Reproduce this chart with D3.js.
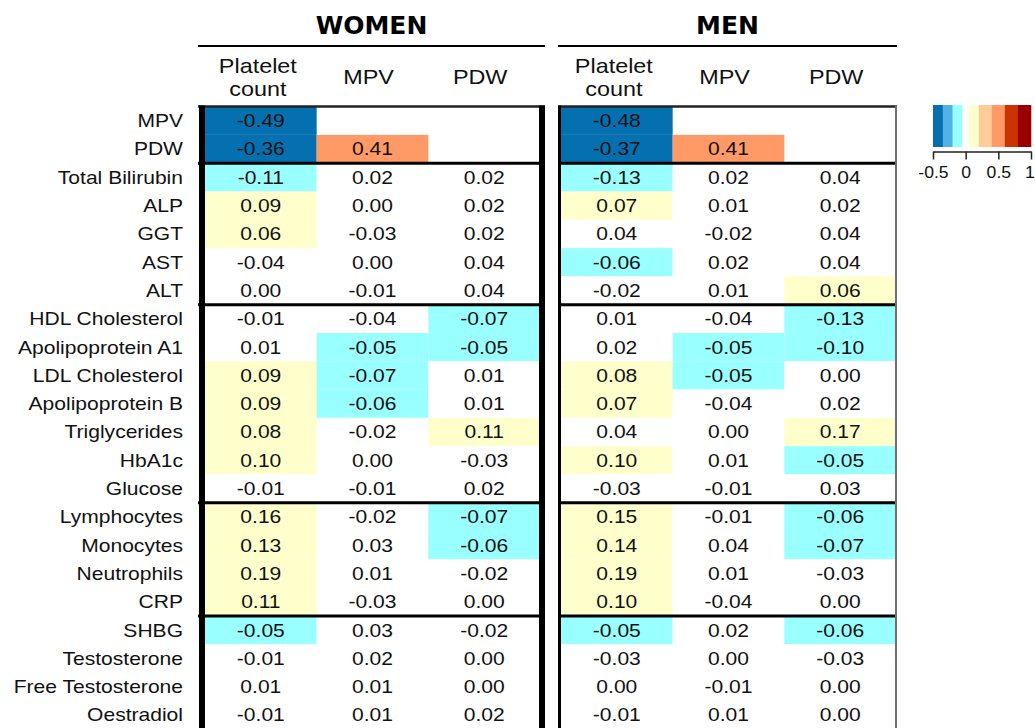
<!DOCTYPE html>
<html>
<head>
<meta charset="utf-8">
<script src="https://cdn.jsdelivr.net/npm/d3@7"></script>
<style>
  html, body { margin: 0; padding: 0; background: #fff; }
  svg { display: block; }
</style>
</head>
<body>
<script>
// Correlations of platelet indices with biomarkers, by sex
const rowLabels = ["MPV", "PDW", "Total Bilirubin", "ALP", "GGT", "AST", "ALT",
  "HDL Cholesterol", "Apolipoprotein A1", "LDL Cholesterol", "Apolipoprotein B",
  "Triglycerides", "HbA1c", "Glucose", "Lymphocytes", "Monocytes", "Neutrophils",
  "CRP", "SHBG", "Testosterone", "Free Testosterone", "Oestradiol"];
const colLabels = ["Platelet count", "MPV", "PDW"];
const groupLabels = ["WOMEN", "MEN"];

const womenPlatelet = [-0.49, -0.36, -0.11, 0.09, 0.06, -0.04, 0.00, -0.01, 0.01, 0.09, 0.09,
  0.08, 0.10, -0.01, 0.16, 0.13, 0.19, 0.11, -0.05, -0.01, 0.01, -0.01];
const womenMPV = [null, 0.41, 0.02, 0.00, -0.03, 0.00, -0.01, -0.04, -0.05, -0.07, -0.06,
  -0.02, 0.00, -0.01, -0.02, 0.03, 0.01, -0.03, 0.03, 0.02, 0.01, 0.01];
const womenPDW = [null, null, 0.02, 0.02, 0.02, 0.04, 0.04, -0.07, -0.05, 0.01, 0.01,
  0.11, -0.03, 0.02, -0.07, -0.06, -0.02, 0.00, -0.02, 0.00, 0.00, 0.02];

const menPlatelet = [-0.48, -0.37, -0.13, 0.07, 0.04, -0.06, -0.02, 0.01, 0.02, 0.08, 0.07,
  0.04, 0.10, -0.03, 0.15, 0.14, 0.19, 0.10, -0.05, -0.03, 0.00, -0.01];
const menMPV = [null, 0.41, 0.02, 0.01, -0.02, 0.02, 0.01, -0.04, -0.05, -0.05, -0.04,
  0.00, 0.01, -0.01, -0.01, 0.04, 0.01, -0.04, 0.02, 0.00, -0.01, 0.01];
const menPDW = [null, null, 0.04, 0.02, 0.04, 0.04, 0.06, -0.13, -0.10, 0.00, 0.02,
  0.17, -0.05, 0.03, -0.06, -0.07, -0.03, 0.00, -0.06, -0.03, 0.00, 0.00];

// rows after which a heavy rule separates biomarker groups
const separatorsAfter = ["PDW", "ALT", "Glucose", "CRP"];

// colour key: band breaks and fills
const legendBreaks = [-0.35, -0.2, -0.05, 0.05, 0.2, 0.4, 0.6, 0.8];
const legendColors = ["#0570b0", "#52b2e6", "#99ffff", "#ffffff", "#ffffcc",
  "#ffcc99", "#ff9966", "#cc3300", "#990000"];
const legendTicks = [-0.5, 0, 0.5, 1];
const legendDomain = [-0.5, 1];

const W = 1035, H = 728;
const svg = d3.select("body").append("svg").attr("width", W).attr("height", H);
svg.append("rect").attr("width", W).attr("height", H).attr("fill", "#fff");

// plain hyphen for negative numbers
const locale = d3.formatLocale({ decimal: ".", thousands: ",", grouping: [3],
  currency: ["", ""], minus: "-" });
const fmtCell = locale.format(".2f");
const fmtKey = locale.format("");

const STRETCH = 1.17;
const textFont = "'Liberation Sans', Arial, sans-serif";

const rowH = 28.3, tableTop = 106.6;
const y = d3.scaleBand().domain(rowLabels).range([tableTop, tableTop + rowLabels.length * rowH]);

// value -> colour; each band is closed on its upper edge
const colorOf = v => legendColors[d3.bisectLeft(legendBreaks, v)];

const panels = [
  { name: groupLabels[0], range: [205, 540], cols: [womenPlatelet, womenMPV, womenPDW],
    outer: [198, 545], left: { x: 202, w: 6, c: "#000" }, right: { x: 542, w: 6, c: "#000" } },
  { name: groupLabels[1], range: [561, 896], cols: [menPlatelet, menMPV, menPDW],
    outer: [558, 897], left: { x: 559.5, w: 3, c: "#000" }, right: { x: 896, w: 2, c: "#6f6f6f" } }
];

function stretchedText(g, x, yy, str, size, anchor) {
  return g.append("text")
    .attr("transform", `translate(${x},${yy}) scale(${STRETCH},1)`)
    .attr("text-anchor", anchor)
    .attr("dominant-baseline", "central")
    .attr("font-family", textFont)
    .attr("font-size", size)
    .attr("fill", "#111")
    .text(str);
}

// row labels
const rowG = svg.append("g");
rowLabels.forEach(r => {
  stretchedText(rowG, 183, y(r) + y.bandwidth() / 2, r, 18, "end");
});

panels.forEach(p => {
  const x = d3.scaleBand().domain(colLabels).range(p.range);
  const g = svg.append("g");

  // group title and underline
  const cx = (p.outer[0] + p.outer[1]) / 2;
  g.append("text")
    .attr("x", cx).attr("y", 25)
    .attr("text-anchor", "middle")
    .attr("dominant-baseline", "central")
    .attr("font-family", "'DejaVu Sans', sans-serif")
    .attr("font-weight", "bold")
    .attr("font-size", 25)
    .attr("fill", "#000")
    .text(p.name);
  g.append("line")
    .attr("x1", p.outer[0]).attr("x2", p.outer[1])
    .attr("y1", 46).attr("y2", 46)
    .attr("stroke", "#000").attr("stroke-width", 2);

  // column headers
  colLabels.forEach(c => {
    const hx = x(c) + x.bandwidth() / 2;
    const words = c.split(" ");
    if (words.length > 1) {
      stretchedText(g, hx - 3, 66, words[0], 20, "middle");
      stretchedText(g, hx - 3, 89, words[1], 20, "middle");
    } else {
      stretchedText(g, hx - 4, 77, c, 20, "middle");
    }
  });

  // cells
  p.cols.forEach((vals, ci) => {
    const c = colLabels[ci];
    vals.forEach((v, ri) => {
      if (v === null) return;
      const r = rowLabels[ri];
      g.append("rect")
        .attr("x", x(c)).attr("y", y(r))
        .attr("width", x.bandwidth()).attr("height", y.bandwidth())
        .attr("fill", colorOf(v));
      stretchedText(g, x(c) + x.bandwidth() / 2, y(r) + y.bandwidth() / 2,
        fmtCell(v), 18, "middle");
    });
  });

  // frame
  const y0 = tableTop, y1 = H + 2;
  g.append("line").attr("x1", p.outer[0]).attr("x2", p.outer[1])
    .attr("y1", y0).attr("y2", y0).attr("stroke", "#222").attr("stroke-width", 2.5);
  separatorsAfter.forEach(r => {
    const yy = y(r) + y.bandwidth();
    g.append("line").attr("x1", p.outer[0]).attr("x2", p.outer[1])
      .attr("y1", yy).attr("y2", yy).attr("stroke", "#000").attr("stroke-width", 3);
  });
  [p.left, p.right].forEach(b => {
    g.append("line").attr("x1", b.x).attr("x2", b.x)
      .attr("y1", y0 - 1.2).attr("y2", y1)
      .attr("stroke", b.c).attr("stroke-width", b.w);
  });
});

// colour key
const lx = d3.scaleLinear().domain(legendDomain).range([933, 1031]);
const edges = [legendDomain[0], ...legendBreaks, legendDomain[1]];
const key = svg.append("g");
key.selectAll("rect").data(legendColors).join("rect")
  .attr("x", (d, i) => lx(edges[i]))
  .attr("width", (d, i) => lx(edges[i + 1]) - lx(edges[i]) + 0.3)
  .attr("y", 105).attr("height", 42)
  .attr("fill", d => d);

const keyAxis = key.append("g")
  .attr("transform", "translate(0,151.5)")
  .call(d3.axisBottom(lx).tickValues(legendTicks).tickSize(8).tickSizeOuter(0)
    .tickFormat(fmtKey));
keyAxis.select(".domain").attr("stroke", "#222").attr("stroke-width", 1.5);
keyAxis.selectAll(".tick line").attr("stroke", "#222").attr("stroke-width", 1.5);
keyAxis.selectAll(".tick text").each(function (d) {
  const t = d3.select(this);
  t.attr("y", null).attr("dy", null)
    .attr("transform", `translate(${d === 1 ? -1.5 : 0},21) scale(1.1,1)`)
    .attr("dominant-baseline", "central")
    .attr("font-family", textFont)
    .attr("font-size", 16)
    .attr("fill", "#111");
});
</script>
</body>
</html>
